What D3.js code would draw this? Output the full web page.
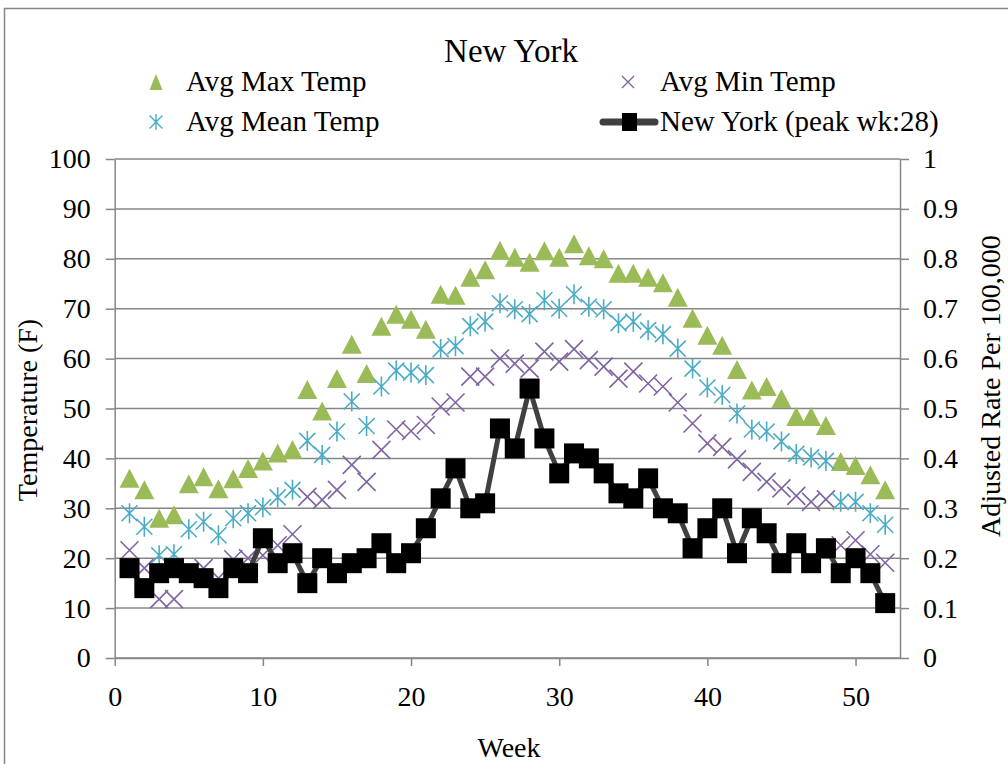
<!DOCTYPE html>
<meta charset="utf-8">
<style>
body { margin: 0; background: #fff; }
svg text { font-family: "Liberation Serif", "Times New Roman", serif; fill: #000; }
.axis path, .axis line { stroke: #868686; stroke-width: 1.5; }
.axis text { font-size: 28px; }
</style>
<svg width="1008" height="764"></svg>
<script src="https://d3js.org/d3.v7.min.js"></script>
<script>

// weekly values
var weeks = d3.range(1, 53);
var maxTemp = [36, 33.7, 28, 28.7, 34.9, 36.3, 33.9, 35.9, 38, 39.5, 41.1, 41.8, 53.8, 49.5, 56, 62.9,
  57, 66.5, 68.9, 67.9, 65.9, 72.9, 72.7, 76.3, 77.8, 81.7, 80.3, 79.3, 81.6, 80.3, 83, 80.6,
  80, 77.1, 77.1, 76.3, 75.2, 72.3, 68.1, 64.7, 62.7, 57.8, 53.7, 54.4, 52, 48.4, 48.4, 46.6,
  39.4, 38.6, 36.7, 33.7];
var minTemp = [21.6, 18, 11.8, 11.8, 17, 18, 16, 19.8, 20, 20.6, 22.6, 24.8, 32.3, 31.7, 33.7, 38.7,
  35.3, 41.7, 45.8, 45.5, 46.7, 50.4, 51.2, 56.4, 56.4, 60, 59, 58, 61.4, 59.4, 61.9, 59.7,
  58.4, 56, 57.4, 55, 54.4, 51.2, 47, 43, 42.3, 39.8, 37.3, 35.3, 34, 32.5, 31.3, 31.8,
  22.6, 23.6, 20.8, 19.1];
var meanTemp = [29, 26.3, 20.6, 20.8, 25.8, 27.3, 24.6, 28, 29, 30.2, 32.2, 33.7, 43.5, 40.7, 45.4, 51.4,
  46.5, 54.4, 57.6, 57.2, 56.7, 61.9, 62.5, 66.5, 67.4, 71.1, 69.9, 68.9, 71.7, 70, 72.9, 70.4,
  69.9, 67.1, 67.4, 65.7, 64.9, 62, 58, 54.2, 52.7, 49, 45.8, 45.4, 43.4, 40.9, 40.2, 39.5,
  31.3, 31.3, 29, 26.7];
var nyRate = [0.18, 0.14, 0.17, 0.18, 0.17, 0.16, 0.14, 0.18, 0.17, 0.24, 0.19, 0.21, 0.15, 0.20, 0.17, 0.19,
  0.20, 0.23, 0.19, 0.21, 0.26, 0.32, 0.38, 0.30, 0.31, 0.46, 0.42, 0.54, 0.44, 0.37, 0.41, 0.40,
  0.37, 0.33, 0.32, 0.36, 0.30, 0.29, 0.22, 0.26, 0.30, 0.21, 0.28, 0.25, 0.19, 0.23, 0.19, 0.22,
  0.17, 0.20, 0.17, 0.11];

var xTicks = [0, 10, 20, 30, 40, 50];
var yTicks = [0, 10, 20, 30, 40, 50, 60, 70, 80, 90, 100];
var y2Ticks = [0, 0.1, 0.2, 0.3, 0.4, 0.5, 0.6, 0.7, 0.8, 0.9, 1];

var svg = d3.select("svg");
var plot = {left: 114.7, right: 900, top: 159, bottom: 658};

var x = d3.scaleLinear().domain([0, 53]).range([plot.left, plot.right]);
var y = d3.scaleLinear().domain([0, 100]).range([plot.bottom, plot.top]);
var y2 = d3.scaleLinear().domain([0, 1]).range([plot.bottom, plot.top]);

// outer chart border (cropped on right/bottom)
svg.append("rect")
    .attr("x", 4.5).attr("y", 8.5)
    .attr("width", 1100).attr("height", 1000)
    .attr("fill", "none").attr("stroke", "#868686").attr("stroke-width", 1.5);

// gridlines
svg.append("g").selectAll("line")
  .data(yTicks)
  .enter().append("line")
    .attr("x1", plot.left).attr("x2", plot.right)
    .attr("y1", function(d) { return y(d); })
    .attr("y2", function(d) { return y(d); })
    .attr("stroke", "#868686").attr("stroke-width", 1.5);

svg.append("g")
    .attr("class", "axis")
    .attr("transform", "translate(" + plot.left + ",0)")
    .call(d3.axisLeft(y).tickValues(yTicks).tickSize(9).tickSizeOuter(0).tickPadding(15));

svg.append("g")
    .attr("class", "axis")
    .attr("transform", "translate(" + plot.right + ",0)")
    .call(d3.axisRight(y2).tickValues(y2Ticks).tickSize(9).tickSizeOuter(0).tickPadding(14)
      .tickFormat(d3.format("~g")));

svg.append("g")
    .attr("class", "axis")
    .attr("transform", "translate(0," + plot.bottom + ")")
    .call(d3.axisBottom(x).tickValues(xTicks).tickSize(8).tickSizeOuter(0).tickPadding(20));

svg.selectAll(".axis .domain").attr("stroke-width", 2);
svg.selectAll(".axis").attr("font-family", "Liberation Serif");

// axis titles
svg.append("text")
    .attr("transform", "translate(37,410) rotate(-90)")
    .attr("text-anchor", "middle")
    .style("font-size", "28px")
    .text("Temperature (F)");

svg.append("text")
    .attr("transform", "translate(1000,386) rotate(-90)")
    .attr("text-anchor", "middle")
    .style("font-size", "28px")
    .text("Adjusted Rate Per 100,000");

svg.append("text")
    .attr("x", 509).attr("y", 757)
    .attr("text-anchor", "middle")
    .style("font-size", "28px")
    .text("Week");

svg.append("text")
    .attr("x", 511).attr("y", 62)
    .attr("text-anchor", "middle")
    .style("font-size", "33px")
    .text("New York");

// marker shapes, centred on (0,0)
function triPath(w, h) {
  return "M0," + (-h / 2) + "L" + (w / 2) + "," + (h / 2) + "L" + (-w / 2) + "," + (h / 2) + "Z";
}
function crossPath(r) {
  return "M" + (-r) + "," + (-r) + "L" + r + "," + r + "M" + (-r) + "," + r + "L" + r + "," + (-r);
}
function starPath(r) {
  return crossPath(r * 0.8) + "M0," + (-r) + "L0," + r;
}

var gMarks = svg.append("g");

gMarks.append("g").selectAll("path")
  .data(weeks)
  .enter().append("path")
    .attr("d", triPath(20, 19))
    .attr("transform", function(d, i) { return "translate(" + x(d) + "," + y(maxTemp[i]) + ")"; })
    .attr("fill", "#9BBB59");

gMarks.append("g").selectAll("path")
  .data(weeks)
  .enter().append("path")
    .attr("d", crossPath(9))
    .attr("transform", function(d, i) { return "translate(" + x(d) + "," + y(minTemp[i]) + ")"; })
    .attr("fill", "none").attr("stroke", "#8064A2").attr("stroke-width", 1.6);

gMarks.append("g").selectAll("path")
  .data(weeks)
  .enter().append("path")
    .attr("d", starPath(10))
    .attr("transform", function(d, i) { return "translate(" + x(d) + "," + y(meanTemp[i]) + ")"; })
    .attr("fill", "none").attr("stroke", "#4BACC6").attr("stroke-width", 1.6);

var line = d3.line()
    .x(function(d) { return x(d); })
    .y(function(d, i) { return y2(nyRate[i]); });

gMarks.append("path")
    .datum(weeks)
    .attr("d", line)
    .attr("fill", "none").attr("stroke", "#404040").attr("stroke-width", 5);

gMarks.append("g").selectAll("rect")
  .data(weeks)
  .enter().append("rect")
    .attr("x", function(d) { return x(d) - 10; })
    .attr("y", function(d, i) { return y2(nyRate[i]) - 10; })
    .attr("width", 20).attr("height", 20)
    .attr("fill", "#000");

// legend
var leg = svg.append("g").style("font-size", "29px");

leg.append("path").attr("d", triPath(13, 16)).attr("transform", "translate(156,82)").attr("fill", "#9BBB59");
leg.append("text").attr("x", 186).attr("y", 91).text("Avg Max Temp");

leg.append("path").attr("d", crossPath(6)).attr("transform", "translate(628,82)")
    .attr("fill", "none").attr("stroke", "#8064A2").attr("stroke-width", 1.4);
leg.append("text").attr("x", 660).attr("y", 91).text("Avg Min Temp");

leg.append("path").attr("d", starPath(8)).attr("transform", "translate(156,122)")
    .attr("fill", "none").attr("stroke", "#4BACC6").attr("stroke-width", 1.4);
leg.append("text").attr("x", 186).attr("y", 131).text("Avg Mean Temp");

leg.append("line").attr("x1", 603).attr("x2", 655).attr("y1", 122).attr("y2", 122)
    .attr("stroke", "#404040").attr("stroke-width", 7).attr("stroke-linecap", "round");
leg.append("rect").attr("x", 622).attr("y", 113).attr("width", 15).attr("height", 18).attr("fill", "#000");
leg.append("text").attr("x", 660).attr("y", 131).text("New York (peak wk:28)");

</script>
